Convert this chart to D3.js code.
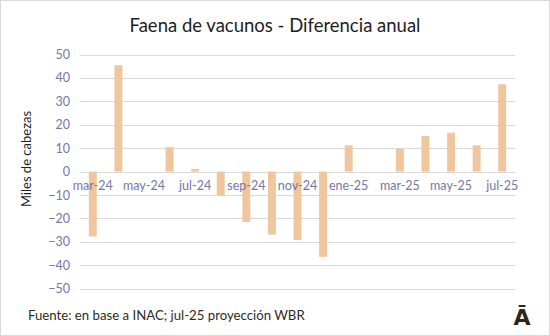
<!DOCTYPE html>
<html>
<head>
<meta charset="utf-8">
<script src="https://cdn.jsdelivr.net/npm/d3@7"></script>
<style>
  html, body { margin: 0; padding: 0; background: #fff; }
  svg { display: block; }
</style>
</head>
<body>
<svg id="chart" width="550" height="336"></svg>
<script>
// Monthly year-over-year change in cattle slaughter (thousands of head)
const months = ["mar-24","abr-24","may-24","jun-24","jul-24","ago-24","sep-24","oct-24","nov-24","dic-24",
                "ene-25","feb-25","mar-25","abr-25","may-25","jun-25","jul-25"];
const diff = [-27.7, 45.4, 0, 10.4, 1.1, -10.2, -21.5, -26.9, -29.2, -36.4,
              11.2, 0, 9.7, 15.2, 16.6, 11.2, 37.3];
const yTicks = [50, 40, 30, 20, 10, 0, -10, -20, -30, -40, -50];
const xLabels = ["mar-24","may-24","jul-24","sep-24","nov-24","ene-25","mar-25","may-25","jul-25"];

const svg = d3.select("#chart");
const W = 550, H = 336;
const font = "Lato, 'Open Sans', sans-serif";

// outer frame
svg.append("rect").attr("x", 0.5).attr("y", 0.5).attr("width", W - 1).attr("height", H - 1)
  .attr("fill", "#fff").attr("stroke", "#d9d9d9");

const x = d3.scaleBand().domain(months).range([80, 515]).paddingInner(0.69).paddingOuter(0.345);
const y = d3.scaleLinear().domain([-50, 50]).range([288.7, 54.5]);

// gridlines
svg.append("g").selectAll("line").data(yTicks).join("line")
  .attr("x1", 80).attr("x2", 515)
  .attr("y1", d => Math.round(y(d)) + 0.5).attr("y2", d => Math.round(y(d)) + 0.5)
  .attr("stroke", "#d9d9d9").attr("stroke-width", 1.2);

// y axis labels
const yAxis = d3.axisLeft(y).tickValues(yTicks).tickSize(0).tickPadding(0);
svg.append("g").attr("transform", "translate(70,0)").call(yAxis)
  .call(g => g.select(".domain").remove())
  .call(g => g.selectAll("text").attr("fill", "#7676a8").attr("font-size", 12.5).attr("font-family", font));

// bars
svg.append("g").selectAll("rect").data(months).join("rect")
  .attr("x", d => x(d))
  .attr("width", x.bandwidth())
  .attr("y", (d, i) => y(Math.max(0, diff[i])))
  .attr("height", (d, i) => Math.abs(y(diff[i]) - y(0)))
  .attr("fill", "#f0c69e");

// x labels just under the zero line
const xAxis = d3.axisBottom(x).tickValues(xLabels).tickSize(0).tickPadding(0);
svg.append("g").attr("transform", `translate(0,${y(0) + 10})`).call(xAxis)
  .call(g => g.select(".domain").remove())
  .call(g => g.selectAll("text").attr("fill", "#7676a8").attr("font-size", 12.5).attr("font-family", font));

// title
svg.append("text").attr("x", 275).attr("y", 32).attr("text-anchor", "middle")
  .attr("font-family", font).attr("font-size", 18.5).attr("fill", "#1e1e1e")
  .text("Faena de vacunos - Diferencia anual");

// y axis title
svg.append("text").attr("transform", "translate(31,159) rotate(-90)").attr("text-anchor", "middle")
  .attr("font-family", font).attr("font-size", 13).attr("fill", "#1e1e1e")
  .text("Miles de cabezas");

// source note
svg.append("text").attr("x", 28).attr("y", 320)
  .attr("font-family", font).attr("font-size", 13.2).attr("fill", "#2e2b1e")
  .text("Fuente: en base a INAC; jul-25 proyección WBR");

// logo mark
svg.append("text").attr("x", 522).attr("y", 325).attr("text-anchor", "middle")
  .attr("font-family", "'DejaVu Sans', sans-serif").attr("font-weight", "bold").attr("font-size", 22)
  .attr("fill", "#2a2618").text("Ā");
</script>
</body>
</html>
